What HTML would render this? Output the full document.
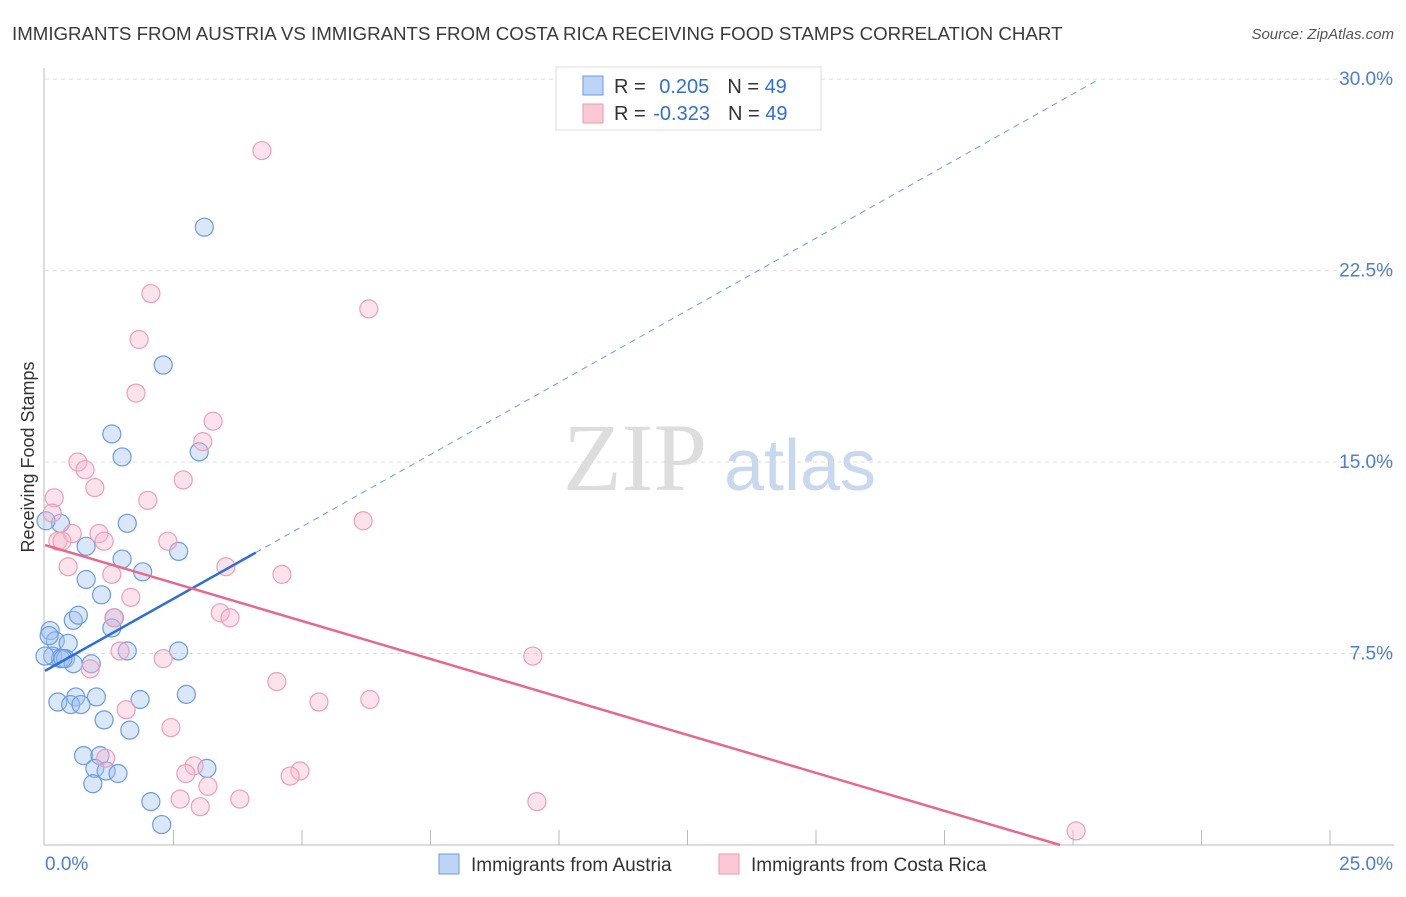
<!DOCTYPE html>
<html><head><meta charset="utf-8"><style>
body{margin:0;background:#fff;font-family:"Liberation Sans",sans-serif;}
</style></head><body>
<svg id="c" width="1406" height="892" xmlns="http://www.w3.org/2000/svg">
<text x="12" y="40" font-size="18.7" fill="#3a3a3a">IMMIGRANTS FROM AUSTRIA VS IMMIGRANTS FROM COSTA RICA RECEIVING FOOD STAMPS CORRELATION CHART</text>
<text x="1394" y="39" font-size="15" fill="#555" text-anchor="end" font-style="italic">Source: ZipAtlas.com</text>
<text x="34" y="457" font-size="18" fill="#333" text-anchor="middle" transform="rotate(-90 34 457)">Receiving Food Stamps</text>
<text x="635" y="490" font-size="96" fill="#ddd" font-family="Liberation Serif,serif" text-anchor="middle">ZIP</text>
<text x="800" y="490" font-size="72" fill="#c8d8ee" text-anchor="middle">atlas</text>
<g id="grid"></g><g id="axes"></g><g id="pts"></g><g id="lines"></g>
<g>
<rect x="556" y="67" width="265" height="63" fill="#fff" stroke="#ddd"/>
<rect x="583" y="76" width="20" height="19" fill="#bcd4f6" stroke="#6a9be0"/>
<rect x="583" y="104" width="20" height="19" fill="#fbc8d6" stroke="#e99ab2"/>
<text x="614" y="93" font-size="20" fill="#333">R = <tspan fill="#2f6fd6" dx="8">0.205</tspan><tspan dx="18" fill="#333">N = </tspan><tspan fill="#2f6fd6">49</tspan></text>
<text x="614" y="120" font-size="20" fill="#333">R = <tspan fill="#2f6fd6" dx="2">-0.323</tspan><tspan dx="18" fill="#333">N = </tspan><tspan fill="#2f6fd6">49</tspan></text>
</g>
<g>
<rect x="439" y="854" width="20" height="20" fill="#bcd4f6" stroke="#6a9be0"/>
<text x="471" y="871" font-size="19" fill="#333">Immigrants from Austria</text>
<rect x="719" y="854" width="20" height="20" fill="#fbc8d6" stroke="#e99ab2"/>
<text x="751" y="871" font-size="19" fill="#333">Immigrants from Costa Rica</text>
</g>
</svg>
<script>
const yTicks=[7.5,15,22.5,30];
const xLabels=["0.0%","25.0%"];
const blueX=[3.1,2.3,1.3,1.5,3.0,1.6,0.3,0.8,2.6,1.5,1.9,0.8,1.1,0.55,0.65,1.35,1.3,0.1,0.2,0.45,1.6,2.6,0.15,0.3,0.4,0.55,0.9,1.0,0.6,0.25,0.5,0.7,1.85,2.75,1.15,1.65,0.75,1.07,0.97,1.19,1.42,0.93,3.15,2.06,2.27,0.08,0.0,0.02,0.35];
const blueY=[24.2,18.8,16.1,15.2,15.4,12.6,12.6,11.7,11.5,11.2,10.7,10.4,9.8,8.8,9.0,8.9,8.5,8.4,8.0,7.9,7.6,7.6,7.4,7.3,7.3,7.1,7.1,5.8,5.8,5.6,5.5,5.5,5.7,5.9,4.9,4.5,3.5,3.5,3.0,2.9,2.8,2.4,3.0,1.7,0.8,8.2,7.4,12.7,7.3];
const pinkX=[4.22,2.06,6.3,1.83,1.77,3.27,3.07,0.64,0.78,2.69,0.97,2.0,0.18,6.19,0.14,1.05,0.53,2.39,1.15,0.25,0.33,0.45,3.52,1.3,4.61,1.67,3.41,3.6,1.34,9.49,1.46,2.3,0.88,4.51,5.33,6.32,1.58,2.45,1.18,2.9,2.74,4.96,4.77,3.17,2.63,3.79,3.02,9.57,20.06];
const pinkY=[27.2,21.6,21.0,19.8,17.7,16.6,15.8,15.0,14.7,14.3,14.0,13.5,13.6,12.7,13.0,12.2,12.2,11.9,11.9,11.9,11.9,10.9,10.9,10.6,10.6,9.7,9.1,8.9,8.9,7.4,7.6,7.3,6.9,6.4,5.6,5.7,5.3,4.6,3.4,3.1,2.8,2.9,2.7,2.3,1.8,1.8,1.5,1.7,0.55];
const blueTrend=[6.82,1.13];
const pinkTrend=[11.75,-0.595];
const NS="http://www.w3.org/2000/svg";
const X=v=>45+v*51.4, Y=v=>845-v*25.53;
function mk(t,a,p){const e=document.createElementNS(NS,t);for(const k in a)e.setAttribute(k,a[k]);document.getElementById(p).appendChild(e);return e;}
yTicks.forEach(t=>{
 const g=mk('line',{x1:45,x2:1394,y1:Y(t),y2:Y(t),stroke:'#ddd','stroke-dasharray':'4,4'},'grid');
 
 
 const l=mk('text',{x:1393,y:Y(t)+6,'font-size':19,fill:'#4a7fd4','text-anchor':'end'},'axes');
 l.textContent=t.toFixed(1)+'%';
 
 
});
mk('line',{x1:44,x2:44,y1:68,y2:845,stroke:'#bbb'},'axes');
mk('line',{x1:44,x2:1394,y1:845,y2:845,stroke:'#bbb'},'axes');
for(let i=1;i<=10;i++){const t=mk('line',{x1:X(i*2.5),x2:X(i*2.5),y1:830,y2:845,stroke:'#bbb'},'axes');
 
 }
const xl0=mk('text',{x:45,y:870,'font-size':19,fill:'#4a7fd4'},'axes');xl0.textContent=xLabels[0];


const xl1=mk('text',{x:1393,y:870,'font-size':19,fill:'#4a7fd4','text-anchor':'end'},'axes');xl1.textContent=xLabels[1];


blueX.forEach((x,i)=>{const c=mk('circle',{cx:X(x),cy:Y(blueY[i]),r:9,fill:'rgba(160,195,240,0.4)',stroke:'#6b9be0','stroke-width':1.2},'pts');
 
 });
pinkX.forEach((x,i)=>{const c=mk('circle',{cx:X(x),cy:Y(pinkY[i]),r:9,fill:'rgba(248,185,205,0.4)',stroke:'#eb9fb7','stroke-width':1.2},'pts');
 
 });
const bEnd=4.1, bMax=(30-blueTrend[0])/blueTrend[1];
let l1=mk('line',{x1:X(0),y1:Y(blueTrend[0]),x2:X(bEnd),y2:Y(blueTrend[0]+blueTrend[1]*bEnd),stroke:'#2d6fd8','stroke-width':2.5},'lines');


let l2=mk('line',{x1:X(bEnd),y1:Y(blueTrend[0]+blueTrend[1]*bEnd),x2:X(bMax),y2:Y(blueTrend[0]+blueTrend[1]*bMax),stroke:'#6b9be0','stroke-width':1,'stroke-dasharray':'6,5'},'lines');


const pEnd=-pinkTrend[0]/pinkTrend[1];
let l3=mk('line',{x1:X(0),y1:Y(pinkTrend[0]),x2:X(pEnd),y2:Y(0),stroke:'#e8678f','stroke-width':2.5},'lines');


</script>
</body></html>
